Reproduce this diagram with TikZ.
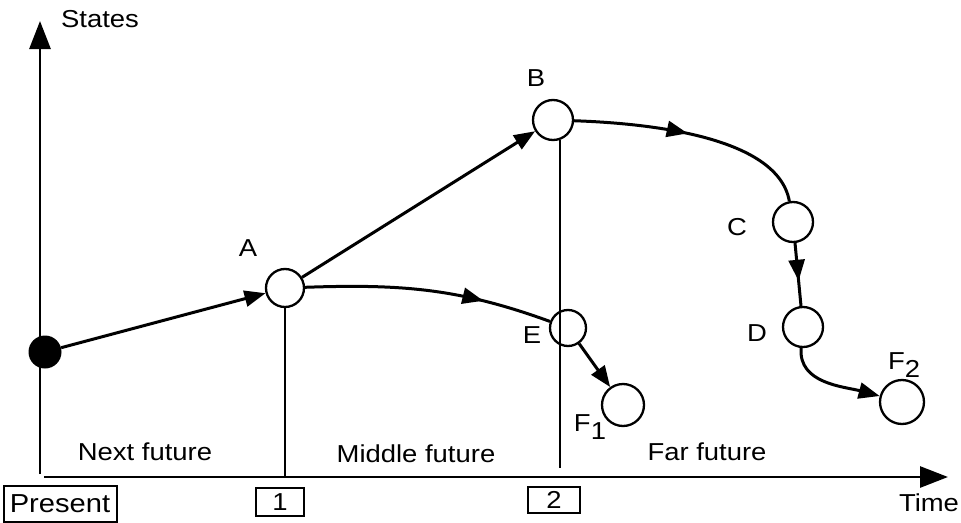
\documentclass[tikz,border=0pt]{standalone}
\usepackage{fontspec}
\setmainfont[FakeStretch=1.12]{Liberation Sans}
\usetikzlibrary{arrows.meta,decorations.markings}
\newcommand{\lsize}{\fontsize{24.5}{27}\selectfont}
\newcommand{\subnum}[1]{\raisebox{-8pt}{#1}}
\tikzset{
  st/.style={circle,draw,line width=2.3pt,fill=white,minimum size=#1,inner sep=0pt},
  lbl/.style={font=\lsize,inner sep=0pt},
  axis/.style={line width=2.8pt,-{Triangle[length=28pt,width=21pt]}},
  conn/.style={line width=3pt,-{Triangle[length=21pt,width=16pt]}},
  midconn/.style={line width=3pt,postaction={decorate},decoration={markings,mark=at position #1 with {\arrow{Triangle[length=21pt,width=16pt]}}}},
  guide/.style={line width=1.3pt},
  tbox/.style={draw,line width=2pt,inner sep=0pt,font=\lsize}
}
\begin{document}
\begin{tikzpicture}[x=1pt,y=-1pt]
\useasboundingbox (0,0) rectangle (961,522);
% axes
\coordinate (yb) at (40,474);
\coordinate (yt) at (40,21);
\coordinate (xl) at (44,477);
\coordinate (xr) at (948,477);
\draw[axis] (yb) -- (yt);
\draw[axis] (xl) -- (xr);
% states
\node[circle,fill=black,minimum size=33pt,inner sep=0pt] (P) at (45,352) {};
\node[st=38pt] (A) at (285,288) {};
\node[st=40pt] (B) at (553,120) {};
\node[st=40pt] (C) at (793,222) {};
\node[st=40pt] (D) at (803,327) {};
\node[st=36pt] (E) at (568,328) {};
\node[st=42pt] (F1) at (623,405) {};
\node[st=44pt] (F2) at (902,402) {};
% guides
\coordinate (g1) at (285,477);
\coordinate (g2t) at (560,140);
\coordinate (g2b) at (560,468);
\draw[guide] (A.south) -- (g1);
\draw[guide] (g2t) -- (g2b);
% connectors
\draw[conn] (P) -- (A);
\draw[conn] (A) -- (B);
\draw[midconn=0.72] (A) to[out=2,in=160] (E);
\draw[midconn=0.47] (B) to[out=-2,in=100,looseness=0.75] (C);
\draw[midconn=0.6] (C) -- (D);
\draw[conn] (E) -- (F1);
\draw[conn] (D) to[out=-95,in=165] (F2);
% labels
\node[lbl] (lS) at (100,19) {States};
\node[lbl] (lA) at (248,248) {A};
\node[lbl] (lB) at (536,78) {B};
\node[lbl] (lC) at (737,227) {C};
\node[lbl] (lD) at (757,333) {D};
\node[lbl] (lE) at (532,335) {E};
\node[lbl] (lF1) at (590,427) {F\subnum{1}};
\node[lbl] (lF2) at (904,365) {F\subnum{2}};
\node[lbl] (lN) at (145,452) {Next future};
\node[lbl] (lM) at (416,454) {Middle future};
\node[lbl] (lFar) at (707,452) {Far future};
\node[lbl] (lT) at (929,503) {Time};
% boxes
\node[tbox,minimum width=113pt,minimum height=36pt,font=\fontsize{26}{28}\selectfont] (bP) at (60,504) {Present};
\node[tbox,minimum width=48pt,minimum height=28pt] (b1) at (280,502) {1};
\node[tbox,minimum width=52pt,minimum height=26pt] (b2) at (554,500) {2};
\end{tikzpicture}
\end{document}
